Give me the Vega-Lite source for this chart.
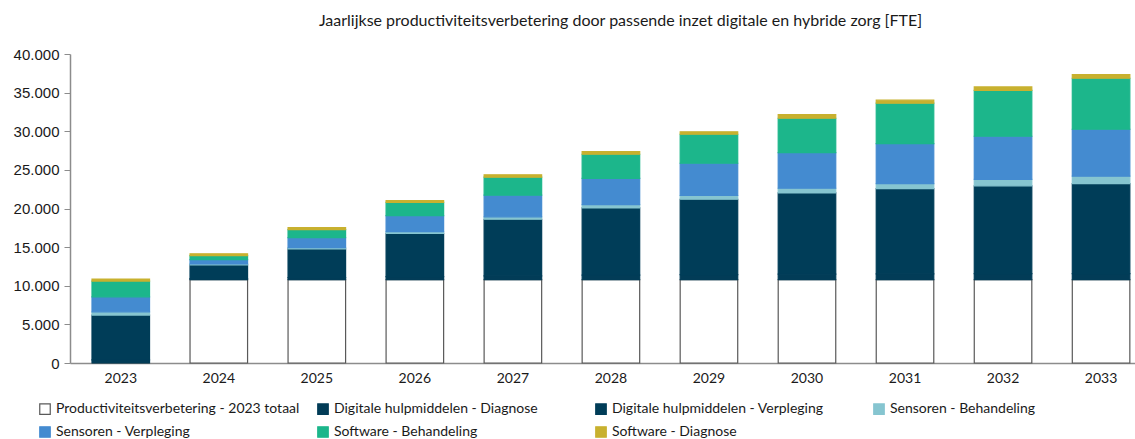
{
  "$schema": "https://vega.github.io/schema/vega-lite/v6.json",
  "width": 1065,
  "height": 309,
  "autosize": {"type": "none"},
  "padding": {"left": 70, "top": 54, "right": 0, "bottom": 76},
  "background": "white",
  "title": {
    "text": "Jaarlijkse productiviteitsverbetering door passende inzet digitale en hybride zorg [FTE]",
    "font": "Lato",
    "fontSize": 16,
    "fontWeight": "normal",
    "color": "#1a1a1a",
    "anchor": "middle",
    "frame": "group",
    "dx": 18,
    "offset": 18
  },
  "data": {
    "values": [
      {"jaar": "2023", "reeks": "Productiviteitsverbetering - 2023 totaal", "k": 0, "waarde": 0},
      {"jaar": "2023", "reeks": "Digitale hulpmiddelen - Diagnose", "k": 1, "waarde": 400},
      {"jaar": "2023", "reeks": "Digitale hulpmiddelen - Verpleging", "k": 2, "waarde": 5800},
      {"jaar": "2023", "reeks": "Sensoren - Behandeling", "k": 3, "waarde": 430},
      {"jaar": "2023", "reeks": "Sensoren - Verpleging", "k": 4, "waarde": 1940},
      {"jaar": "2023", "reeks": "Software - Behandeling", "k": 5, "waarde": 2030},
      {"jaar": "2023", "reeks": "Software - Diagnose", "k": 6, "waarde": 260},

      {"jaar": "2024", "reeks": "Productiviteitsverbetering - 2023 totaal", "k": 0, "waarde": 10800},
      {"jaar": "2024", "reeks": "Digitale hulpmiddelen - Diagnose", "k": 1, "waarde": 120},
      {"jaar": "2024", "reeks": "Digitale hulpmiddelen - Verpleging", "k": 2, "waarde": 1780},
      {"jaar": "2024", "reeks": "Sensoren - Behandeling", "k": 3, "waarde": 130},
      {"jaar": "2024", "reeks": "Sensoren - Verpleging", "k": 4, "waarde": 560},
      {"jaar": "2024", "reeks": "Software - Behandeling", "k": 5, "waarde": 520},
      {"jaar": "2024", "reeks": "Software - Diagnose", "k": 6, "waarde": 220},

      {"jaar": "2025", "reeks": "Productiviteitsverbetering - 2023 totaal", "k": 0, "waarde": 10800},
      {"jaar": "2025", "reeks": "Digitale hulpmiddelen - Diagnose", "k": 1, "waarde": 250},
      {"jaar": "2025", "reeks": "Digitale hulpmiddelen - Verpleging", "k": 2, "waarde": 3720},
      {"jaar": "2025", "reeks": "Sensoren - Behandeling", "k": 3, "waarde": 170},
      {"jaar": "2025", "reeks": "Sensoren - Verpleging", "k": 4, "waarde": 1290},
      {"jaar": "2025", "reeks": "Software - Behandeling", "k": 5, "waarde": 1040},
      {"jaar": "2025", "reeks": "Software - Diagnose", "k": 6, "waarde": 260},

      {"jaar": "2026", "reeks": "Productiviteitsverbetering - 2023 totaal", "k": 0, "waarde": 10800},
      {"jaar": "2026", "reeks": "Digitale hulpmiddelen - Diagnose", "k": 1, "waarde": 380},
      {"jaar": "2026", "reeks": "Digitale hulpmiddelen - Verpleging", "k": 2, "waarde": 5610},
      {"jaar": "2026", "reeks": "Sensoren - Behandeling", "k": 3, "waarde": 220},
      {"jaar": "2026", "reeks": "Sensoren - Verpleging", "k": 4, "waarde": 2070},
      {"jaar": "2026", "reeks": "Software - Behandeling", "k": 5, "waarde": 1720},
      {"jaar": "2026", "reeks": "Software - Diagnose", "k": 6, "waarde": 220},

      {"jaar": "2027", "reeks": "Productiviteitsverbetering - 2023 totaal", "k": 0, "waarde": 10800},
      {"jaar": "2027", "reeks": "Digitale hulpmiddelen - Diagnose", "k": 1, "waarde": 490},
      {"jaar": "2027", "reeks": "Digitale hulpmiddelen - Verpleging", "k": 2, "waarde": 7320},
      {"jaar": "2027", "reeks": "Sensoren - Behandeling", "k": 3, "waarde": 310},
      {"jaar": "2027", "reeks": "Sensoren - Verpleging", "k": 4, "waarde": 2800},
      {"jaar": "2027", "reeks": "Software - Behandeling", "k": 5, "waarde": 2330},
      {"jaar": "2027", "reeks": "Software - Diagnose", "k": 6, "waarde": 310},

      {"jaar": "2028", "reeks": "Productiviteitsverbetering - 2023 totaal", "k": 0, "waarde": 10800},
      {"jaar": "2028", "reeks": "Digitale hulpmiddelen - Diagnose", "k": 1, "waarde": 580},
      {"jaar": "2028", "reeks": "Digitale hulpmiddelen - Verpleging", "k": 2, "waarde": 8700},
      {"jaar": "2028", "reeks": "Sensoren - Behandeling", "k": 3, "waarde": 430},
      {"jaar": "2028", "reeks": "Sensoren - Verpleging", "k": 4, "waarde": 3400},
      {"jaar": "2028", "reeks": "Software - Behandeling", "k": 5, "waarde": 3110},
      {"jaar": "2028", "reeks": "Software - Diagnose", "k": 6, "waarde": 350},

      {"jaar": "2029", "reeks": "Productiviteitsverbetering - 2023 totaal", "k": 0, "waarde": 10800},
      {"jaar": "2029", "reeks": "Digitale hulpmiddelen - Diagnose", "k": 1, "waarde": 650},
      {"jaar": "2029", "reeks": "Digitale hulpmiddelen - Verpleging", "k": 2, "waarde": 9750},
      {"jaar": "2029", "reeks": "Sensoren - Behandeling", "k": 3, "waarde": 480},
      {"jaar": "2029", "reeks": "Sensoren - Verpleging", "k": 4, "waarde": 4180},
      {"jaar": "2029", "reeks": "Software - Behandeling", "k": 5, "waarde": 3750},
      {"jaar": "2029", "reeks": "Software - Diagnose", "k": 6, "waarde": 310},

      {"jaar": "2030", "reeks": "Productiviteitsverbetering - 2023 totaal", "k": 0, "waarde": 10800},
      {"jaar": "2030", "reeks": "Digitale hulpmiddelen - Diagnose", "k": 1, "waarde": 700},
      {"jaar": "2030", "reeks": "Digitale hulpmiddelen - Verpleging", "k": 2, "waarde": 10520},
      {"jaar": "2030", "reeks": "Sensoren - Behandeling", "k": 3, "waarde": 600},
      {"jaar": "2030", "reeks": "Sensoren - Verpleging", "k": 4, "waarde": 4620},
      {"jaar": "2030", "reeks": "Software - Behandeling", "k": 5, "waarde": 4440},
      {"jaar": "2030", "reeks": "Software - Diagnose", "k": 6, "waarde": 480},

      {"jaar": "2031", "reeks": "Productiviteitsverbetering - 2023 totaal", "k": 0, "waarde": 10800},
      {"jaar": "2031", "reeks": "Digitale hulpmiddelen - Diagnose", "k": 1, "waarde": 740},
      {"jaar": "2031", "reeks": "Digitale hulpmiddelen - Verpleging", "k": 2, "waarde": 11040},
      {"jaar": "2031", "reeks": "Sensoren - Behandeling", "k": 3, "waarde": 650},
      {"jaar": "2031", "reeks": "Sensoren - Verpleging", "k": 4, "waarde": 5180},
      {"jaar": "2031", "reeks": "Software - Behandeling", "k": 5, "waarde": 5220},
      {"jaar": "2031", "reeks": "Software - Diagnose", "k": 6, "waarde": 390},

      {"jaar": "2032", "reeks": "Productiviteitsverbetering - 2023 totaal", "k": 0, "waarde": 10800},
      {"jaar": "2032", "reeks": "Digitale hulpmiddelen - Diagnose", "k": 1, "waarde": 760},
      {"jaar": "2032", "reeks": "Digitale hulpmiddelen - Verpleging", "k": 2, "waarde": 11370},
      {"jaar": "2032", "reeks": "Sensoren - Behandeling", "k": 3, "waarde": 850},
      {"jaar": "2032", "reeks": "Sensoren - Verpleging", "k": 4, "waarde": 5570},
      {"jaar": "2032", "reeks": "Software - Behandeling", "k": 5, "waarde": 5950},
      {"jaar": "2032", "reeks": "Software - Diagnose", "k": 6, "waarde": 440},

      {"jaar": "2033", "reeks": "Productiviteitsverbetering - 2023 totaal", "k": 0, "waarde": 10800},
      {"jaar": "2033", "reeks": "Digitale hulpmiddelen - Diagnose", "k": 1, "waarde": 780},
      {"jaar": "2033", "reeks": "Digitale hulpmiddelen - Verpleging", "k": 2, "waarde": 11650},
      {"jaar": "2033", "reeks": "Sensoren - Behandeling", "k": 3, "waarde": 950},
      {"jaar": "2033", "reeks": "Sensoren - Verpleging", "k": 4, "waarde": 6080},
      {"jaar": "2033", "reeks": "Software - Behandeling", "k": 5, "waarde": 6600},
      {"jaar": "2033", "reeks": "Software - Diagnose", "k": 6, "waarde": 480}
    ]
  },
  "mark": {"type": "bar", "strokeWidth": 1.2},
  "encoding": {
    "x": {
      "field": "jaar",
      "type": "ordinal",
      "scale": {"paddingInner": 0.413, "paddingOuter": 0.1385, "align": 0.81},
      "axis": {
        "title": null,
        "labelAngle": 0,
        "labelFont": "Lato",
        "labelFontSize": 14,
        "labelColor": "#1a1a1a",
        "labelPadding": 8,
        "ticks": false,
        "domainColor": "#8c8c8c",
        "domainWidth": 1.5
      }
    },
    "y": {
      "field": "waarde",
      "type": "quantitative",
      "stack": "zero",
      "scale": {"domain": [0, 40000], "nice": false},
      "axis": {
        "title": null,
        "values": [0, 5000, 10000, 15000, 20000, 25000, 30000, 35000, 40000],
        "labelExpr": "replace(format(datum.value, ','), ',', '.')",
        "labelFont": "Liberation Sans",
        "labelFontSize": 15,
        "labelColor": "#1a1a1a",
        "labelPadding": 5,
        "grid": false,
        "tickSize": 6,
        "tickColor": "#8c8c8c",
        "domainColor": "#8c8c8c",
        "domainWidth": 1.5
      }
    },
    "order": {"field": "k", "type": "quantitative"},
    "color": {
      "field": "reeks",
      "type": "nominal",
      "scale": {
        "domain": [
          "Productiviteitsverbetering - 2023 totaal",
          "Digitale hulpmiddelen - Diagnose",
          "Digitale hulpmiddelen - Verpleging",
          "Sensoren - Behandeling",
          "Sensoren - Verpleging",
          "Software - Behandeling",
          "Software - Diagnose"
        ],
        "range": ["#ffffff", "#023c57", "#003d58", "#86c5d0", "#448bd0", "#1cb68b", "#c8b12f"]
      },
      "legend": {
        "title": null,
        "orient": "none",
        "legendX": -32,
        "legendY": 348,
        "direction": "horizontal",
        "columns": 4,
        "gridAlign": "all",
        "columnPadding": 15,
        "rowPadding": 7,
        "symbolType": "square",
        "symbolSize": 110,
        "symbolStrokeWidth": 1.2,
        "labelFont": "Lato",
        "labelFontSize": 14,
        "labelColor": "#1a1a1a",
        "labelOffset": 4,
        "labelLimit": 400
      }
    },
    "stroke": {
      "field": "reeks",
      "type": "nominal",
      "scale": {
        "domain": [
          "Productiviteitsverbetering - 2023 totaal",
          "Digitale hulpmiddelen - Diagnose",
          "Digitale hulpmiddelen - Verpleging",
          "Sensoren - Behandeling",
          "Sensoren - Verpleging",
          "Software - Behandeling",
          "Software - Diagnose"
        ],
        "range": ["#595959", "#023c57", "#003d58", "#86c5d0", "#448bd0", "#1cb68b", "#c8b12f"]
      },
      "legend": null
    }
  },
  "config": {"view": {"stroke": null}}
}
